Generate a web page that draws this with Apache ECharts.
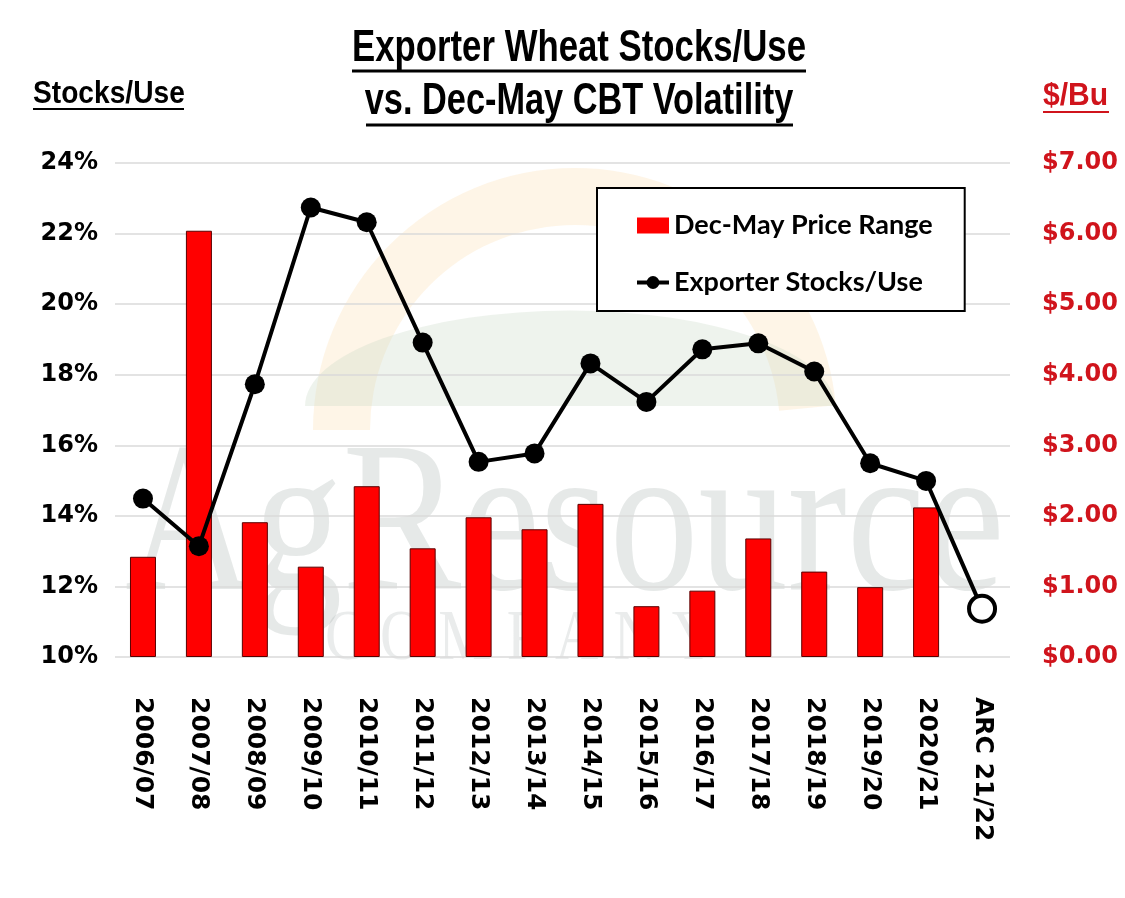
<!DOCTYPE html>
<html>
<head>
<meta charset="utf-8">
<script src="https://cdn.jsdelivr.net/npm/echarts@6/dist/echarts.min.js"></script>
<style>
  html, body { margin: 0; padding: 0; background: #fff; }
  #chart { width: 1125px; height: 898px; }
</style>
</head>
<body>
<div id="chart"></div>
<script>
var categories = ['2006/07', '2007/08', '2008/09', '2009/10', '2010/11', '2011/12', '2012/13', '2013/14',
  '2014/15', '2015/16', '2016/17', '2017/18', '2018/19', '2019/20', '2020/21', 'ARC 21/22'];
// Dec-May price range, $/Bu (right axis)
var priceRange = [1.42, 6.04, 1.91, 1.28, 2.42, 1.54, 1.98, 1.81, 2.17, 0.72, 0.94, 1.68, 1.21, 0.99, 2.12, null];
// exporter stocks/use, % (left axis)
var stocksUse = [14.49, 13.14, 17.73, 22.74, 22.32, 18.91, 15.53, 15.77, 18.32, 17.23, 18.72, 18.89, 18.09, 15.49, 14.99, 11.37];
var leftTicks = [10, 24, 2];
var rightTicks = [0, 7, 1];

var RED = '#d0141c';
var textFont = '"Liberation Sans", Arial, sans-serif';
var axisFont = '"DejaVu Sans", sans-serif';
var serif = '"Liberation Serif", "DejaVu Serif", serif';

var chart = echarts.init(document.getElementById('chart'));

// last point (estimate) drawn hollow
var lineData = stocksUse.map(function (v, i) {
  if (i === stocksUse.length - 1) {
    return { value: v, symbolSize: 26, itemStyle: { color: '#fff', borderColor: '#000', borderWidth: 4 } };
  }
  return v;
});

// condensed bold text, no narrow font installed so squeeze it
function squeezed(text, x, y, size, sx, color, align) {
  return {
    type: 'text', x: x, y: y, scaleX: sx,
    style: { text: text, fontFamily: textFont, fontSize: size, fontWeight: 'bold', fill: color,
      align: align, verticalAlign: 'middle' }
  };
}

var option = {
  backgroundColor: '#fff',
  animation: false,
  graphic: [
    // watermark
    { type: 'sector', z: -10, shape: { cx: 575, cy: 430, r: 262, r0: 205, startAngle: Math.PI * 1.0, endAngle: Math.PI * 1.97 },
      style: { fill: 'rgba(250,215,160,0.25)' } },
    { type: 'sector', z: -10, scaleY: 0.36, y: 262, shape: { cx: 570, cy: 400, r: 265, r0: 0, startAngle: Math.PI, endAngle: Math.PI * 2 },
      style: { fill: 'rgba(200,215,195,0.3)' } },
    { type: 'text', z: -9, x: 125, y: 640, scaleY: 1.2,
      style: { text: 'AgResource', fontFamily: serif, fontSize: 178, fill: 'rgba(150,162,160,0.24)', verticalAlign: 'bottom' } },
    { type: 'text', z: -9, x: 325, y: 676, scaleY: 1.2,
      style: { text: 'C O M P A N Y', fontFamily: serif, fontSize: 60, fill: 'rgba(150,162,160,0.2)', verticalAlign: 'bottom' } },
    // titles
    squeezed('Exporter Wheat Stocks/Use', 579, 49, 44, 0.79, '#000', 'center'),
    squeezed('vs. Dec-May CBT Volatility', 579, 102, 44, 0.78, '#000', 'center'),
    squeezed('Stocks/Use', 33, 94, 32, 0.88, '#000', 'left'),
    squeezed('$/Bu', 1043, 96, 32, 0.94, RED, 'left'),
    // underlines
    { type: 'line', shape: { x1: 352, y1: 71, x2: 806, y2: 71 }, style: { stroke: '#000', lineWidth: 3 } },
    { type: 'line', shape: { x1: 366, y1: 125, x2: 793, y2: 125 }, style: { stroke: '#000', lineWidth: 3 } },
    { type: 'line', shape: { x1: 33, y1: 109, x2: 184, y2: 109 }, style: { stroke: '#000', lineWidth: 2 } },
    { type: 'line', shape: { x1: 1043, y1: 112, x2: 1109, y2: 112 }, style: { stroke: RED, lineWidth: 2 } }
  ],
  legend: {
    left: 597, top: 188,
    orient: 'vertical',
    padding: [24, 32, 15, 38],
    itemGap: 30,
    itemWidth: 32, itemHeight: 16,
    backgroundColor: '#fff',
    borderColor: '#000', borderWidth: 2, borderRadius: 0,
    lineStyle: { width: 4 },
    textStyle: { fontFamily: '"Lato", "Open Sans", sans-serif', fontSize: 27, fontWeight: 'bold', color: '#000' },
    data: [
      { name: 'Dec-May Price Range', icon: 'rect', itemStyle: { color: '#ff0000', borderWidth: 0 } },
      { name: 'Exporter Stocks/Use' }
    ]
  },
  grid: { left: 115, right: 115, top: 163, bottom: 241 },
  xAxis: {
    type: 'category',
    data: categories,
    axisLine: { show: false },
    axisTick: { show: false },
    axisLabel: { rotate: -90, margin: 40, interval: 0, fontFamily: axisFont, fontSize: 25, fontWeight: 'bold', color: '#000' }
  },
  yAxis: [
    {
      type: 'value', min: leftTicks[0], max: leftTicks[1], interval: leftTicks[2], position: 'left',
      axisLine: { show: false }, axisTick: { show: false },
      axisLabel: { margin: 17, fontFamily: axisFont, fontSize: 24, fontWeight: 'bold', color: '#000',
        formatter: '{value}%' },
      splitLine: { lineStyle: { color: '#dadada', width: 1.5 } }
    },
    {
      type: 'value', min: rightTicks[0], max: rightTicks[1], interval: rightTicks[2], position: 'right',
      axisLine: { show: false }, axisTick: { show: false },
      axisLabel: { margin: 32, fontFamily: axisFont, fontSize: 24, fontWeight: 'bold', color: RED,
        formatter: function (v) { return '$' + v.toFixed(2); } },
      splitLine: { show: false }
    }
  ],
  series: [
    {
      name: 'Dec-May Price Range',
      type: 'bar',
      yAxisIndex: 1,
      data: priceRange,
      barWidth: 26,
      itemStyle: { color: '#ff0000', borderColor: '#5a0000', borderWidth: 1 },
      z: 2
    },
    {
      name: 'Exporter Stocks/Use',
      type: 'line',
      yAxisIndex: 0,
      data: lineData,
      symbol: 'circle',
      symbolSize: 20,
      lineStyle: { color: '#000', width: 4 },
      itemStyle: { color: '#000' },
      z: 3
    }
  ]
};

chart.setOption(option);
</script>
</body>
</html>
